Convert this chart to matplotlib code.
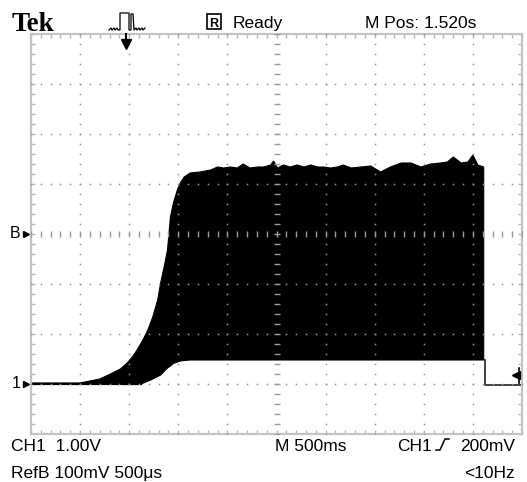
import numpy as np
import matplotlib
matplotlib.use("Agg")
import matplotlib.pyplot as plt
from matplotlib.patches import Rectangle
from matplotlib.lines import Line2D

W, H = 527, 482

# CH1 envelope (s, V) read at 500 ms/div, 1 V/div, ground 3 div below centre
upper_t = [0.00, 0.50, 0.60, 0.70, 0.81, 0.91, 0.98, 1.04, 1.08, 1.14, 1.19, 1.24,
           1.29, 1.32, 1.36, 1.39, 1.42, 1.45, 1.49, 1.52, 1.56, 1.62, 1.72, 1.83,
           1.90, 1.96, 2.03, 2.10, 2.16, 2.23, 2.31, 2.37, 2.44, 2.47, 2.51, 2.57,
           2.64, 2.71, 2.78, 2.85, 2.92, 2.98, 3.05, 3.12, 3.18, 3.26, 3.36, 3.46,
           3.56, 3.66, 3.77, 3.87, 3.97, 4.07, 4.17, 4.24, 4.30, 4.38, 4.45, 4.50,
           4.55, 4.61]
upper_v = [0.02, 0.02, 0.06, 0.10, 0.20, 0.30, 0.42, 0.56, 0.68, 0.88, 1.08, 1.34,
           1.68, 2.02, 2.38, 2.68, 3.34, 3.62, 3.88, 4.02, 4.14, 4.22, 4.24, 4.28,
           4.34, 4.32, 4.34, 4.32, 4.40, 4.32, 4.34, 4.34, 4.38, 4.46, 4.32, 4.38,
           4.34, 4.38, 4.34, 4.38, 4.34, 4.34, 4.32, 4.34, 4.38, 4.32, 4.34, 4.36,
           4.24, 4.34, 4.42, 4.42, 4.34, 4.40, 4.42, 4.44, 4.54, 4.42, 4.44, 4.58,
           4.38, 4.34]
lower_t = [0.00, 1.12, 1.22, 1.29, 1.32, 1.36, 1.39, 1.42, 1.45, 1.49, 1.52, 1.56,
           1.62, 4.61]
lower_v = [0.00, 0.00, 0.08, 0.15, 0.18, 0.26, 0.32, 0.36, 0.41, 0.44, 0.46, 0.47,
           0.48, 0.48]
# trace after the burst ends
tail_t = [4.62, 4.62, 5.00]
tail_v = [0.48, -0.02, -0.02]

trig_pos = 0.97     # s, trigger point marker
trig_level = 0.18   # V, trigger level marker

x_div, y_div = 0.5, 1.0
t_min, t_max = 0.0, 5.0
v_min, v_max = -1.0, 7.0
v_center = 3.0

plt.rcParams['font.family'] = ['Liberation Sans', 'DejaVu Sans']
FS = 12.5

fig = plt.figure(figsize=(W / 100, H / 100), dpi=100)
fig.patch.set_facecolor('white')


def px(x, y):
    return x / W, 1 - y / H


ax = fig.add_axes([31 / W, 1 - 434 / H, 491 / W, 400 / H])
ax.set_xlim(t_min, t_max)
ax.set_ylim(v_min, v_max)
ax.set_facecolor('white')

# frame and edge ticks
for s in ax.spines.values():
    s.set_color('#c4c4c4')
    s.set_linewidth(1.6)
ax.set_xticks(np.arange(t_min, t_max + 1e-9, x_div / 5))
ax.set_yticks(np.arange(v_min, v_max + 1e-9, y_div / 5))
ax.tick_params(direction='in', length=3, width=1, color='#b8b8b8',
               top=True, right=True, labelbottom=False, labelleft=False)

# signal
ax.fill(np.r_[upper_t, lower_t[::-1]], np.r_[upper_v, lower_v[::-1]],
        color='black', lw=0.8, ec='black', zorder=2)
ax.plot([lower_t[0], lower_t[1]], [lower_v[0], lower_v[1]], color='black', lw=1.6, zorder=2)
ax.plot(tail_t, tail_v, color='#333333', lw=1.3, zorder=2)

# graticule dots, drawn over the trace
dot = dict(ls='none', marker='s', ms=1.1, mec='none', mfc='#959595', zorder=3)
fine_t = np.arange(t_min, t_max + 1e-9, x_div / 5)
fine_v = np.arange(v_min, v_max + 1e-9, y_div / 5)
for gv in np.arange(v_min + y_div, v_max, y_div):
    if abs(gv - v_center) < 1e-9:
        ax.plot(fine_t, np.full_like(fine_t, gv), ls='none', marker='|', ms=4,
                mew=1, color='#9a9a9a', zorder=3)
    else:
        ax.plot(fine_t, np.full_like(fine_t, gv), **dot)
for gt in np.arange(t_min + x_div, t_max - 1e-9, x_div):
    if abs(gt - 2.5) < 1e-9:
        ax.plot(np.full_like(fine_v, gt), fine_v, ls='none', marker='_', ms=4,
                mew=1, color='#9a9a9a', zorder=3)
    else:
        ax.plot(np.full_like(fine_v, gt), fine_v, **dot)

# channel markers on the left
ytr = ax.get_yaxis_transform()
for label, lv in (('1', 0.0), ('B', v_center)):
    ax.text(-0.022, lv, label, transform=ytr, ha='right', va='center', fontsize=11.5,
            clip_on=False)
    ax.plot([-0.01], [lv], marker='>', ms=4, color='black', transform=ytr,
            clip_on=False)

# trigger level on the right
ax.plot([t_max - 0.06], [trig_level], marker='<', ms=6, color='black', zorder=4,
        clip_on=False)
ax.plot([t_max - 0.03, t_max - 0.03], [trig_level - 0.15, trig_level + 0.15],
        color='black', lw=1.2, zorder=4, clip_on=False)

# trigger position on top
xtr = ax.get_xaxis_transform()
ax.plot([trig_pos, trig_pos], [0.985, 1.0], color='black', lw=1.5, transform=xtr,
        clip_on=False, zorder=4)
ax.plot([trig_pos], [0.975], marker='v', ms=7, color='black', transform=xtr,
        clip_on=False, zorder=4)

# header
fig.text(*px(12, 31), 'Tek', family='Liberation Serif', weight='bold', fontsize=19.5,
         va='baseline')
pulse_x = [109, 111, 112, 114, 115, 117, 118, 120, 120, 129, 129, 131, 131,
           133, 134, 136, 137, 139, 140, 142, 143, 145]
pulse_y = [30, 28, 30, 28, 30, 28, 30, 30, 13, 13, 30, 30, 14, 14, 30, 28,
           30, 28, 30, 28, 30, 28]
fig.add_artist(Line2D([x / W for x in pulse_x], [1 - y / H for y in pulse_y],
                      color='black', lw=0.9))
fig.add_artist(Rectangle(px(207, 29), 14 / W, 15 / H, fill=False, ec='black', lw=1.2))
fig.text(*px(214, 27), 'R', fontsize=9, weight='bold', ha='center', va='baseline')
fig.text(*px(233, 28), 'Ready', fontsize=FS, va='baseline')
fig.text(*px(365, 28), 'M Pos: 1.520s', fontsize=FS, va='baseline')

# footer
fig.text(*px(11, 451), 'CH1  1.00V', fontsize=FS, va='baseline')
fig.text(*px(275, 451), 'M 500ms', fontsize=FS, va='baseline')
fig.text(*px(397, 451), 'CH1', fontsize=FS, va='baseline')
edge_x = [436, 440, 445, 449]
edge_y = [450, 450, 439, 439]
fig.add_artist(Line2D([x / W for x in edge_x], [1 - y / H for y in edge_y],
                      color='black', lw=1.1))
fig.text(*px(515, 451), '200mV', fontsize=FS, va='baseline', ha='right')
fig.text(*px(11, 478), 'RefB 100mV 500\u03bcs', fontsize=FS, va='baseline')
fig.text(*px(515, 478), '<10Hz', fontsize=FS, va='baseline', ha='right')

fig.savefig('out.png', dpi=100, facecolor='white')
